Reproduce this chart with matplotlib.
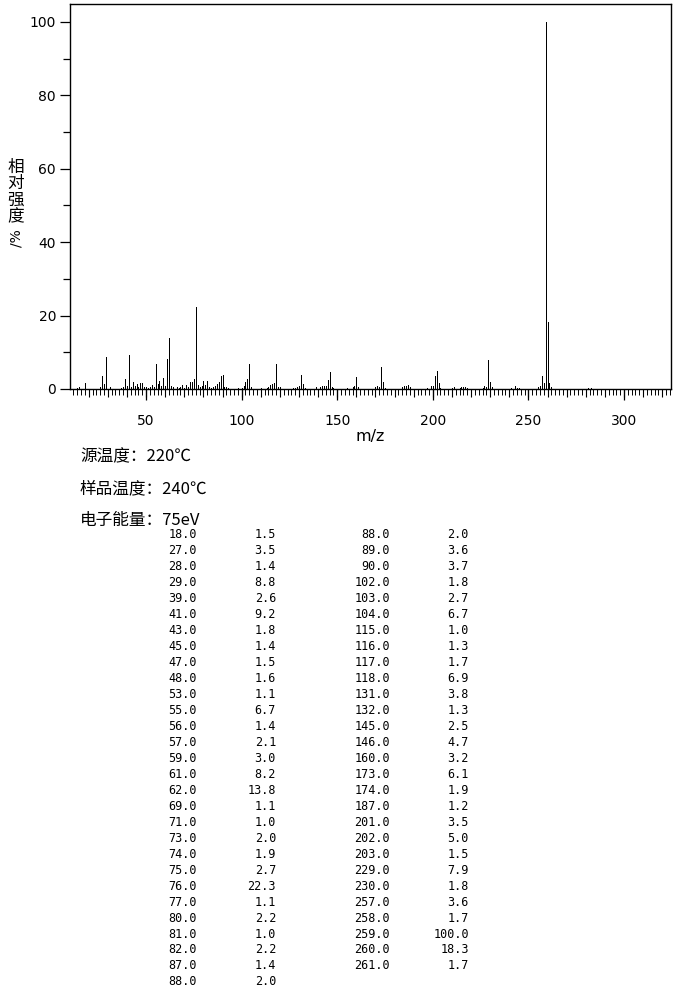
import matplotlib
matplotlib.use("Agg")
import matplotlib.pyplot as plt
from matplotlib.ticker import MultipleLocator

plt.rcParams['font.family'] = ['DejaVu Sans', 'Noto Sans CJK SC']

# peaks listed in the table (>= 1 %)
mz_main = [18, 27, 28, 29, 39, 41, 43, 45, 47, 48, 53, 55, 56, 57, 59, 61, 62,
           69, 71, 73, 74, 75, 76, 77, 80, 81, 82, 87, 88, 89, 90, 102, 103, 104,
           115, 116, 117, 118, 131, 132, 145, 146, 160, 173, 174, 187, 201, 202,
           203, 229, 230, 257, 258, 259, 260, 261]
int_main = [1.5, 3.5, 1.4, 8.8, 2.6, 9.2, 1.8, 1.4, 1.5, 1.6, 1.1, 6.7, 1.4, 2.1,
            3.0, 8.2, 13.8, 1.1, 1.0, 2.0, 1.9, 2.7, 22.3, 1.1, 2.2, 1.0, 2.2, 1.4,
            2.0, 3.6, 3.7, 1.8, 2.7, 6.7, 1.0, 1.3, 1.7, 6.9, 3.8, 1.3, 2.5, 4.7,
            3.2, 6.1, 1.9, 1.2, 3.5, 5.0, 1.5, 7.9, 1.8, 3.6, 1.7, 100.0, 18.3, 1.7]

# small peaks seen in the spectrum only (estimated)
mz_small = [14, 15, 26, 31, 37, 38, 40, 42, 44, 46, 49, 50, 51, 52, 54, 58, 60,
            63, 64, 66, 67, 68, 70, 72, 78, 79, 83, 84, 85, 86, 91, 92, 93, 98,
            100, 101, 105, 110, 113, 114, 119, 120, 127, 128, 129, 130, 133, 139,
            141, 142, 143, 144, 147, 148, 155, 158, 159, 161, 170, 171, 172, 175,
            184, 185, 186, 188, 197, 199, 200, 204, 210, 211, 214, 215, 216, 217,
            218, 226, 227, 228, 231, 241, 243, 244, 245, 255, 256, 262, 281, 283]
int_small = [0.3, 0.5, 0.6, 0.5, 0.4, 0.6, 0.7, 0.5, 0.8, 0.6, 0.5, 0.5, 0.4, 0.5,
             0.6, 0.8, 0.9, 0.8, 0.5, 0.5, 0.4, 0.6, 0.4, 0.5, 0.5, 0.7, 0.5, 0.4,
             0.5, 0.8, 0.6, 0.5, 0.4, 0.4, 0.4, 0.7, 0.6, 0.3, 0.4, 0.6, 0.6, 0.5,
             0.4, 0.4, 0.6, 0.7, 0.4, 0.5, 0.5, 0.7, 0.8, 0.7, 0.6, 0.4, 0.4, 0.5,
             0.7, 0.5, 0.5, 0.7, 0.5, 0.4, 0.5, 0.7, 0.8, 0.5, 0.4, 0.9, 0.7, 0.4,
             0.4, 0.5, 0.4, 0.6, 0.5, 0.6, 0.4, 0.4, 0.8, 0.6, 0.5, 0.4, 0.7, 0.4,
             0.4, 0.5, 0.7, 0.5, 0.3, 0.3]

info_lines = ["源温度：220℃", "样品温度：240℃", "电子能量：75eV"]

W, H = 680, 992
fig = plt.figure(figsize=(W / 100, H / 100), dpi=100)
ax = fig.add_axes([70 / W, 1 - 389 / H, (671 - 70) / W, (389 - 4) / H])

ax.vlines(mz_small, 0, int_small, color='black', linewidth=0.55, antialiased=False)
ax.vlines(mz_main, 0, int_main, color='black', linewidth=0.55, antialiased=False)

ax.set_xlim(10.2, 324.6)
ax.set_ylim(0, 104.9)
for s in ax.spines.values():
    s.set_linewidth(1.0)

ax.xaxis.set_major_locator(MultipleLocator(50))
ax.xaxis.set_minor_locator(MultipleLocator(2))
ax.yaxis.set_major_locator(MultipleLocator(20))
ax.yaxis.set_minor_locator(MultipleLocator(10))
ax.tick_params(axis='x', which='major', length=8, width=0.9, labelsize=10, pad=10)
ax.tick_params(axis='x', which='minor', length=4, width=0.7)
ax.tick_params(axis='y', which='major', length=7, width=0.9, labelsize=10, pad=3)
ax.tick_params(axis='y', which='minor', length=5, width=0.9)

# medium ticks every 10
sec = ax.secondary_xaxis(0)
sec.set_xticks(range(20, 330, 10))
sec.tick_params(length=6, width=0.8, labelbottom=False)
for s in sec.spines.values():
    s.set_visible(False)

fig.text(370 / W, 1 - 437 / H, "m/z", ha='center', va='center', fontsize=11.5)

# vertical y label
fig.text(16 / W, 1 - 192 / H, "相\n对\n强\n度", ha='center', va='center',
         fontsize=12, family=['Noto Sans CJK SC'], linespacing=0.95)
fig.text(16 / W, 1 - 238 / H, "/%", ha='center', va='center', fontsize=10,
         rotation=90)

for i, line in enumerate(info_lines):
    fig.text(80 / W, 1 - (457 + i * 31.5) / H, line, ha='left', va='center',
             fontsize=12, family=['Noto Sans CJK SC', 'DejaVu Sans'])

# peak table
half = 29
col1 = list(zip(mz_main[:half], int_main[:half]))
col2 = list(zip(mz_main[half - 1:], int_main[half - 1:]))
for cols, (xa, xb) in ((col1, (197, 276)), (col2, (390, 469))):
    for i, (m, v) in enumerate(cols):
        y = 1 - (535 + i * 15.96) / H
        fig.text(xa / W, y, f"{m:.1f}", ha='right', va='center', fontsize=8.5,
                 family='DejaVu Sans Mono')
        fig.text(xb / W, y, f"{v:.1f}", ha='right', va='center', fontsize=8.5,
                 family='DejaVu Sans Mono')

fig.savefig("out.png", dpi=100)
